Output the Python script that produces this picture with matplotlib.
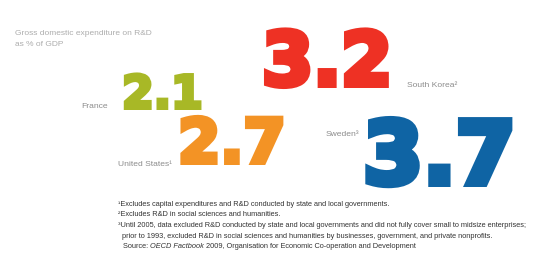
import numpy as np
import matplotlib.pyplot as plt
import matplotlib.patheffects as pe

# gross domestic expenditure on R&D, % of GDP
countries = ['France', 'United States\u00b9', 'South Korea\u00b2', 'Sweden\u00b3']
values = [2.1, 2.7, 3.2, 3.7]
colors = ['#a8b826', '#f39325', '#ee3124', '#0f64a4']

title_lines = ['Gross domestic expenditure on R&D', 'as % of GDP']
notes = [
    '\u00b9Excludes capital expenditures and R&D conducted by state and local governments.',
    '\u00b2Excludes R&D in social sciences and humanities.',
    '\u00b3Until 2005, data excluded R&D conducted by state and local governments and did not fully cover small to midsize enterprises;',
    '  prior to 1993, excluded R&D in social sciences and humanities by businesses, government, and private nonprofits.',
]
source = [('Source: ', 'normal'), ('OECD Factbook', 'italic'),
          (' 2009, Organisation for Economic Co-operation and Development', 'normal')]

# number ink position (left edge, bottom) and label placement, in pixels
num_pos = [(122, 110), (178, 165), (262, 88), (363, 187)]
lab_pos = [(108, 108, 'right'), (172, 166, 'right'), (407, 87, 'left'), (359, 136, 'right')]

W, H = 545, 268
fig = plt.figure(figsize=(W / 100, H / 100), dpi=100)
ax = fig.add_axes([0, 0, 1, 1])
ax.set_xlim(0, W)
ax.set_ylim(H, 0)
ax.axis('off')

small = ['Liberation Sans', 'DejaVu Sans']

ax.text(15, 35, title_lines[0], fontsize=6.0, color='#adadad', family=small, va='baseline')
ax.text(15, 46, title_lines[1], fontsize=6.0, color='#adadad', family=small, va='baseline')

for name, v, c, (nx, ny), (lx, ly, ha) in zip(countries, values, colors, num_pos, lab_pos):
    # digit height grows linearly with the value; an outline in the same
    # colour makes the bold face heavier
    h_px = 20.6 * v - 6.3
    em_px = h_px / 0.812
    lw_px = 0.083 * em_px
    ax.text(nx - 0.04 * em_px + lw_px / 2, ny - lw_px / 2, f'{v:.1f}',
            fontsize=em_px * 0.72, color=c, family='DejaVu Sans', fontweight='bold',
            va='baseline', ha='left',
            path_effects=[pe.withStroke(linewidth=lw_px * 0.72, foreground=c,
                                        joinstyle='miter')])
    ax.text(lx, ly, name, fontsize=6.1, color='#8c8c8c', family=small, va='baseline', ha=ha)

for i, line in enumerate(notes):
    ax.text(118, 205.5 + i * 10.7, line, fontsize=5.35, color='#333333', family=small,
            va='baseline')

# source line: pieces placed one after another
renderer = fig.canvas.get_renderer()
x = 123
for piece, style in source:
    t = ax.text(x, 248.5, piece, fontsize=5.35, color='#333333', family=small,
                va='baseline', style=style)
    x += t.get_window_extent(renderer).width

fig.savefig('out.png', dpi=100, facecolor='white')
